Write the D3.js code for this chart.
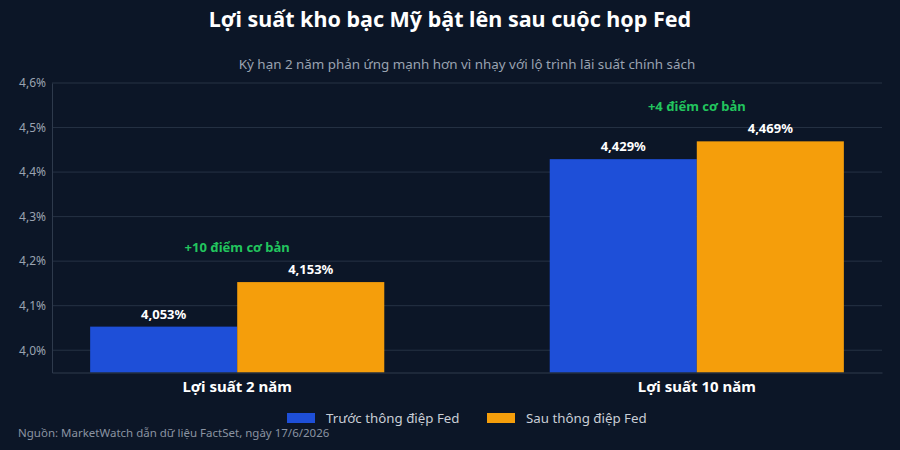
<!DOCTYPE html>
<html>
<head>
<meta charset="utf-8">
<script src="https://cdn.jsdelivr.net/npm/d3@7"></script>
<style>
  html, body { margin: 0; padding: 0; background: #0c1627; }
  svg { display: block; font-family: "Noto Sans", "Open Sans", sans-serif; }
</style>
</head>
<body>
<svg width="900" height="450"></svg>
<script>
var categories = ["Lợi suất 2 năm", "Lợi suất 10 năm"];
var seriesNames = ["Trước thông điệp Fed", "Sau thông điệp Fed"];
var beforeValues = [4.053, 4.429];
var afterValues = [4.153, 4.469];
var changeLabels = ["+10 điểm cơ bản", "+4 điểm cơ bản"];
var yTicks = [4.0, 4.1, 4.2, 4.3, 4.4, 4.5, 4.6];

var colors = ["#1e4fd8", "#f59e0b"];

var svg = d3.select("svg");
var width = 900, height = 450;
var margin = {top: 83, right: 18, bottom: 78, left: 52};

svg.append("rect").attr("width", width).attr("height", height).attr("fill", "#0c1627");

// title + subtitle
svg.append("text")
    .attr("x", 450).attr("y", 27)
    .attr("text-anchor", "middle")
    .attr("fill", "#ffffff")
    .attr("font-size", 21.5).attr("font-weight", "bold")
    .text("Lợi suất kho bạc Mỹ bật lên sau cuộc họp Fed");
svg.append("text")
    .attr("x", 467).attr("y", 69)
    .attr("text-anchor", "middle")
    .attr("fill", "#9aa3b1")
    .attr("font-size", 13.4)
    .text("Kỳ hạn 2 năm phản ứng mạnh hơn vì nhạy với lộ trình lãi suất chính sách");

var x0 = d3.scaleBand()
    .domain(categories)
    .range([margin.left, width - margin.right])
    .paddingInner(0.36)
    .paddingOuter(0.083);

var x1 = d3.scaleBand()
    .domain(seriesNames)
    .range([0, x0.bandwidth()]);

var y = d3.scaleLinear()
    .domain([3.95, 4.6])
    .range([height - margin.bottom + 0.5, margin.top]);

// gridlines
svg.append("g")
    .selectAll("line")
    .data(yTicks)
    .enter().append("line")
    .attr("x1", margin.left).attr("x2", width - margin.right)
    .attr("y1", function(d) { return y(d); })
    .attr("y2", function(d) { return y(d); })
    .attr("stroke", "#263244").attr("stroke-width", 1);

// y axis labels
var yAxis = d3.axisLeft(y)
    .tickValues(yTicks)
    .tickSize(0)
    .tickPadding(6)
    .tickFormat(function(d) { return d3.format(".1f")(d).replace(".", ",") + "%"; });
var yg = svg.append("g")
    .attr("transform", "translate(" + margin.left + ",0)")
    .call(yAxis);
yg.select(".domain").attr("stroke", "#2e3a4c");
yg.selectAll("text")
    .attr("fill", "#9aa3b1")
    .attr("font-size", 12)
    .attr("font-family", "Noto Sans, sans-serif");

// bars
var groups = svg.append("g")
    .selectAll("g")
    .data(categories)
    .enter().append("g")
    .attr("transform", function(d) { return "translate(" + x0(d) + ",0)"; });

var barData = function(d, i) {
    return [
        {name: seriesNames[0], value: beforeValues[i], color: colors[0]},
        {name: seriesNames[1], value: afterValues[i], color: colors[1]}
    ];
};

groups.selectAll("rect")
    .data(barData)
    .enter().append("rect")
    .attr("x", function(d) { return x1(d.name); })
    .attr("width", x1.bandwidth())
    .attr("y", function(d) { return y(d.value); })
    .attr("height", function(d) { return y.range()[0] - y(d.value); })
    .attr("fill", function(d) { return d.color; });

groups.selectAll("text.val")
    .data(barData)
    .enter().append("text")
    .attr("class", "val")
    .attr("x", function(d) { return x1(d.name) + x1.bandwidth() / 2; })
    .attr("y", function(d) { return y(d.value) - 8; })
    .attr("text-anchor", "middle")
    .attr("fill", "#ffffff")
    .attr("font-size", 13).attr("font-weight", "bold")
    .text(function(d) { return d3.format(".3f")(d.value).replace(".", ",") + "%"; });

// change annotation
groups.append("text")
    .attr("x", x0.bandwidth() / 2)
    .attr("y", function(d, i) { return y(afterValues[i]) - 30; })
    .attr("text-anchor", "middle")
    .attr("fill", "#22c55e")
    .attr("font-size", 13).attr("font-weight", "bold")
    .text(function(d, i) { return changeLabels[i]; });

// x axis
var xAxis = d3.axisBottom(x0).tickSize(0).tickPadding(9);
var xg = svg.append("g")
    .attr("transform", "translate(0," + y.range()[0] + ")")
    .call(xAxis);
xg.select(".domain").attr("stroke", "#2e3a4c");
xg.selectAll("text")
    .attr("fill", "#ffffff")
    .attr("font-size", 15).attr("font-weight", "bold")
    .attr("font-family", "Noto Sans, sans-serif");

// legend
var legendX = [287, 487];
var legend = svg.append("g")
    .selectAll("g")
    .data(seriesNames)
    .enter().append("g")
    .attr("transform", function(d, i) { return "translate(" + legendX[i] + ",413)"; });
legend.append("rect")
    .attr("width", 28).attr("height", 10)
    .attr("fill", function(d, i) { return colors[i]; });
legend.append("text")
    .attr("x", 39).attr("y", 10)
    .attr("fill", "#c9ced6")
    .attr("font-size", 13.3)
    .text(function(d) { return d; });

// source
svg.append("text")
    .attr("x", 18).attr("y", 437)
    .attr("fill", "#8a93a1")
    .attr("font-size", 11.5)
    .text("Nguồn: MarketWatch dẫn dữ liệu FactSet, ngày 17/6/2026");
</script>
</body>
</html>
